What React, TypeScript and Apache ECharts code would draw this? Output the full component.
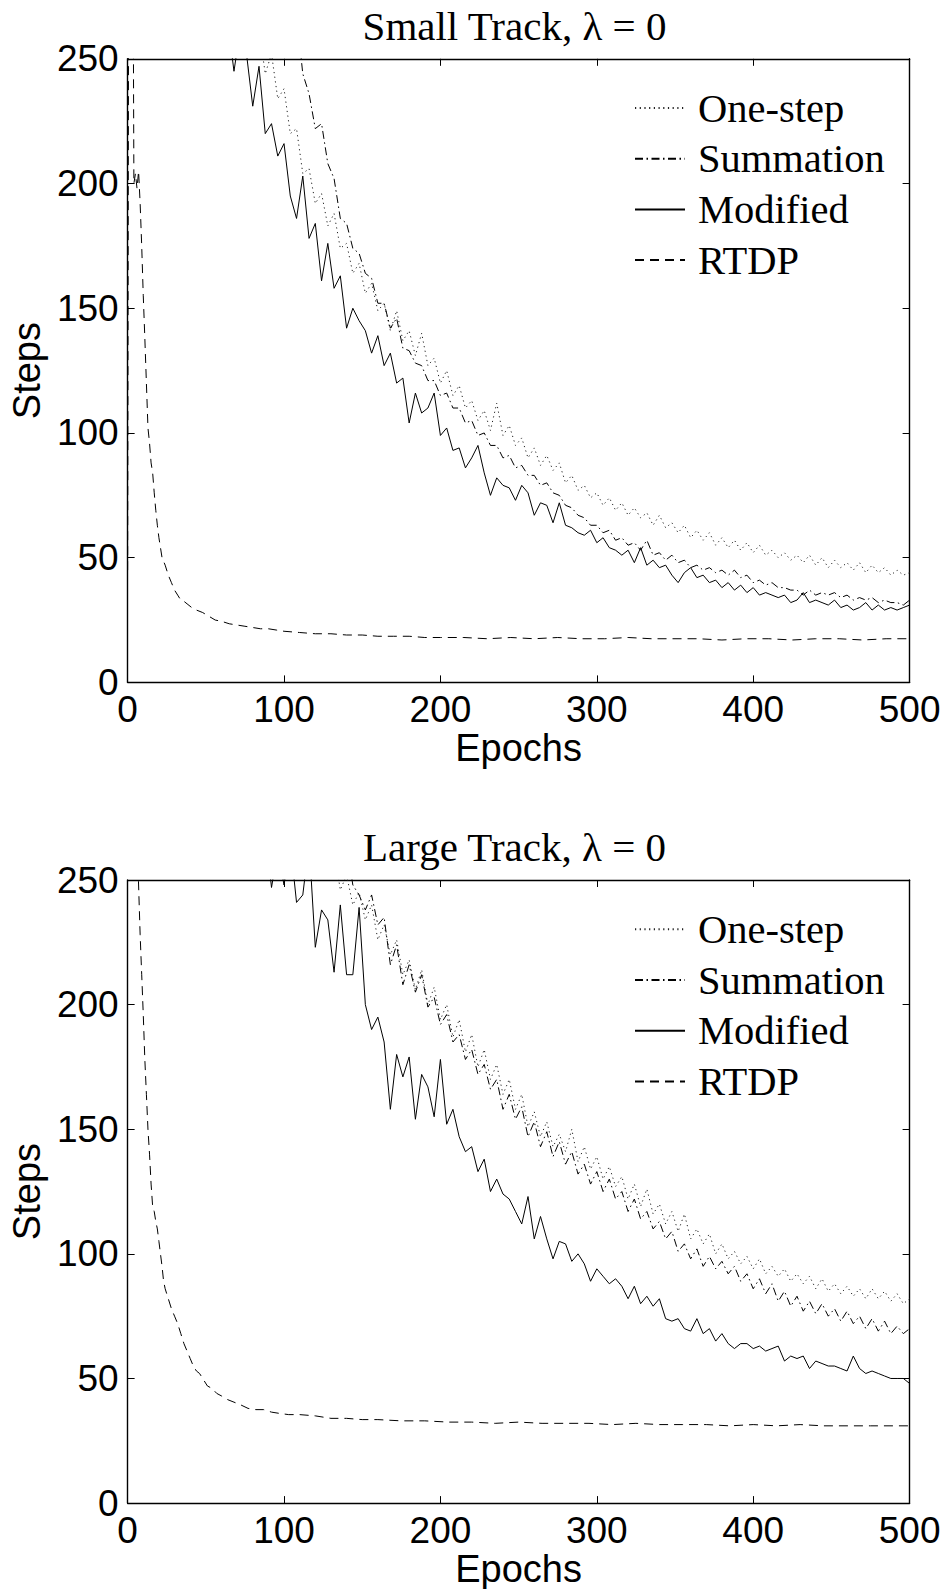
import React, { useEffect, useRef } from "react";
import * as echarts from "echarts";

// ---------------- data ----------------
const EPOCH_STEP = 4;
const SERIES_NAMES = ["One-step", "Summation", "Modified", "RTDP"];
const PANEL_TITLES = ["Small Track, λ = 0", "Large Track, λ = 0"];
const X_LABEL = "Epochs";
const Y_LABEL = "Steps";

// Small track (top panel)
const smallOneStepStart = 84;
const smallOneStep = [
  262, 244, 252, 234, 238, 220, 222, 204, 206, 192,
  196, 183, 188, 174, 176, 164, 168, 156, 160, 149,
  152, 141, 149, 137, 141, 131, 140, 127, 130, 120,
  125, 115, 119, 110, 113, 105, 109, 101, 112, 99,
  103, 95, 98, 90, 94, 87, 91, 85, 88, 80,
  83, 77, 79, 74, 76, 71, 74, 69, 72, 67,
  70, 66, 68, 63, 67, 62, 64, 60, 63, 58,
  61, 57, 60, 55, 58, 54, 57, 53, 56, 52,
  55, 51, 53, 50, 52, 49, 51, 48, 51, 47,
  50, 46, 49, 46, 48, 45, 48, 44, 47, 44,
  46, 43, 45, 43, 44,
];
const smallSummationStart = 108;
const smallSummation = [
  268, 244, 236, 222, 224, 208, 202, 186, 184, 174,
  172, 164, 162, 152, 152, 142, 146, 134, 133, 128,
  127, 121, 121, 115, 116, 110, 110, 104, 105, 99,
  100, 95, 95, 90, 91, 86, 87, 83, 83, 79,
  80, 76, 75, 71, 70, 67, 66, 63, 63, 60,
  61, 57, 58, 55, 56, 53, 57, 51, 52, 49,
  51, 48, 49, 46, 47, 45, 46, 44, 45, 43,
  45, 42, 43, 40, 41, 39, 40, 38, 38, 37,
  37, 35, 37, 35, 36, 35, 36, 34, 35, 33,
  34, 33, 34, 32, 33, 32, 32, 31, 33,
];
const smallModifiedStart = 64;
const smallModified = [
  265, 245, 262, 252, 231, 247, 220, 224, 211, 216,
  195, 186, 203, 178, 184, 161, 176, 158, 163, 142,
  150, 145, 141, 132, 139, 127, 132, 120, 122, 104,
  116, 108, 110, 116, 99, 102, 93, 94, 86, 90,
  95, 84, 75, 82, 79, 78, 73, 79, 76, 67,
  72, 71, 64, 72, 63, 62, 60, 59, 61, 56,
  58, 54, 53, 51, 53, 48, 54, 47, 49, 46,
  47, 43, 40, 44, 46, 42, 43, 40, 41, 38,
  40, 37, 39, 36, 38, 35, 36, 35, 34, 35,
  32, 33, 36, 32, 33, 32, 31, 33, 30, 31,
  29, 30, 32, 29, 31, 29, 30, 29, 30, 31,
];
const smallRTDP: [number, number][] = [
  [0, 45], [1, 420], [2, 400], [3, 380], [4, 200], [5, 204], [6, 198], [7, 205],
  [8, 192], [9, 175], [10, 155], [11, 138], [12, 120], [13, 102], [14, 96], [15, 88],
  [16, 84], [17, 76], [18, 69], [19, 63], [20, 58], [21, 54], [22, 50], [24, 47],
  [26, 43], [28, 40], [30, 37], [32, 35], [34, 33], [36, 32.5], [38, 31.5], [41, 30],
  [44, 29], [48, 28], [52, 26.5], [56, 25], [60, 24.5], [65, 23.5], [70, 23], [75, 22.5],
  [80, 22], [85, 21.5], [90, 21.5], [95, 21], [100, 20.5], [110, 20], [120, 19.5],
  [130, 19.5], [140, 19], [150, 19], [160, 18.5], [170, 18.5], [180, 18.5], [190, 18],
  [200, 18], [215, 18], [230, 17.5], [245, 18], [260, 17.5], [275, 18], [290, 17.5],
  [305, 17.5], [320, 18], [335, 17.5], [350, 17.5], [365, 17.5], [380, 17], [395, 17.5],
  [410, 17.5], [425, 17], [440, 17.5], [455, 17.5], [470, 17], [485, 17.5], [500, 17.5],
];

// Large track (bottom panel)
const largeOneStepStart = 132;
const largeOneStep = [
  262, 246, 252, 240, 245, 234, 240, 226, 232, 220,
  226, 212, 218, 206, 214, 200, 207, 194, 200, 187,
  194, 181, 188, 175, 182, 170, 176, 164, 170, 158,
  164, 151, 157, 147, 153, 143, 148, 141, 150, 137,
  143, 134, 139, 130, 135, 127, 131, 122, 128, 119,
  126, 116, 120, 112, 117, 109, 116, 106, 110, 104,
  108, 100, 104, 98, 101, 96, 99, 94, 98, 92,
  95, 91, 94, 89, 92, 88, 91, 86, 90, 85,
  88, 84, 87, 83, 86, 82, 86, 82, 85, 81,
  84, 80, 82,
];
const largeSummationStart = 140;
const largeSummation = [
  264, 248, 244, 238, 244, 232, 235, 216, 224, 208,
  216, 205, 212, 199, 203, 192, 196, 185, 188, 178,
  182, 172, 176, 166, 170, 158, 164, 154, 159, 147,
  153, 143, 149, 139, 145, 136, 141, 132, 136, 128,
  133, 125, 130, 122, 125, 117, 122, 114, 117, 110,
  113, 106, 109, 101, 104, 98, 102, 95, 99, 94,
  97, 92, 95, 89, 92, 86, 90, 84, 88, 81,
  85, 79, 83, 77, 81, 76, 80, 75, 78, 73,
  77, 72, 75, 70, 74, 69, 73, 68, 71, 68,
  70,
];
const largeModifiedStart = 88;
const largeModified = [
  270, 247, 262, 248, 265, 241, 244, 265, 223, 238,
  234, 213, 240, 212, 212, 239, 200, 190, 195, 185,
  158, 180, 171, 179, 154, 172, 167, 155, 178, 152,
  158, 147, 141, 143, 133, 138, 125, 130, 124, 122,
  117, 112, 123, 106, 115, 106, 98, 105, 104, 97,
  100, 96, 89, 94, 91, 88, 90, 87, 82, 87,
  80, 83, 79, 82, 74, 73, 74, 70, 69, 74,
  68, 70, 65, 68, 64, 62, 64, 64, 62, 63,
  61, 62, 63, 57, 59, 58, 59, 54, 57, 56,
  55, 55, 54, 53, 59, 54, 52, 53, 52, 51,
  50, 50, 50, 48,
];
const largeRTDP: [number, number][] = [
  [0, 430], [3, 380], [6, 270], [7, 248], [8, 228], [9, 212], [10, 196], [11, 178],
  [12, 164], [13, 150], [14, 140], [15, 128], [16, 119], [17, 117], [18, 113], [19, 110],
  [20, 105], [21, 100], [22, 95], [23, 89], [24, 86], [26, 82], [28, 78], [30, 75],
  [32, 72], [34, 68], [36, 64], [38, 61], [40, 58], [42, 55], [44, 53], [46, 52],
  [48, 50], [51, 47], [54, 46], [57, 44], [60, 43], [64, 41.5], [68, 40.5], [72, 39.5],
  [77, 38], [82, 37.5], [87, 37.5], [92, 36.5], [97, 36], [103, 35.5], [110, 35.5],
  [120, 35], [130, 34], [140, 34], [150, 33.5], [160, 33.5], [175, 33], [190, 33],
  [205, 32.5], [220, 32.5], [235, 32], [250, 32.5], [265, 32], [280, 32], [295, 32],
  [310, 31.5], [325, 32], [340, 31.5], [355, 31.5], [370, 31.5], [385, 31], [400, 31.5],
  [415, 31], [430, 31.5], [445, 31], [460, 31], [475, 31], [490, 31], [500, 31],
];

// ---------------- helpers ----------------
const toPairs = (start: number, values: number[]) =>
  values.map((v, i) => [start + i * EPOCH_STEP, v]);

const SANS = "'Liberation Sans', Arial, Helvetica, sans-serif";
const SERIF = "'Liberation Serif', 'Times New Roman', serif";

const PANELS = [
  {
    title: PANEL_TITLES[0],
    grid: { left: 119.6, top: 58.8, width: 790, height: 623.6 },
    titleTop: 5.3,
    legendTop: 87.5,
    data: [
      toPairs(smallOneStepStart, smallOneStep),
      toPairs(smallSummationStart, smallSummation),
      toPairs(smallModifiedStart, smallModified),
      smallRTDP,
    ],
  },
  {
    title: PANEL_TITLES[1],
    grid: { left: 119.6, top: 880, width: 790, height: 624 },
    titleTop: 826.3,
    legendTop: 908.8,
    data: [
      toPairs(largeOneStepStart, largeOneStep),
      toPairs(largeSummationStart, largeSummation),
      toPairs(largeModifiedStart, largeModified),
      largeRTDP,
    ],
  },
];

const LINE_STYLES: any[] = [
  { color: "#222", width: 1, type: [1.2, 3.5] },
  { color: "#000", width: 1, type: [8, 3.5, 1.5, 3.5] },
  { color: "#000", width: 1, type: "solid" },
  { color: "#000", width: 1, type: [9, 6] },
];

function buildOption() {
  const axisLine = { show: true, onZero: false, lineStyle: { color: "#000", width: 1.4 } };
  const axisTick = { show: true, inside: true, length: 7, lineStyle: { color: "#000", width: 1 } };
  const labelStyle = { color: "#000", fontFamily: SANS, fontSize: 37, lineHeight: 37 };

  const grid: any[] = [];
  const xAxis: any[] = [];
  const yAxis: any[] = [];
  const series: any[] = [];
  const title: any[] = [];
  const legend: any[] = [];

  PANELS.forEach((p, i) => {
    grid.push({ ...p.grid, containLabel: false });
    xAxis.push({
      type: "value", gridIndex: i, position: "bottom", min: 0, max: 500, interval: 100,
      axisLine, axisTick, splitLine: { show: false },
      axisLabel: { ...labelStyle, margin: 9 },
      name: X_LABEL, nameLocation: "middle", nameGap: 42,
      nameTextStyle: { ...labelStyle, fontSize: 38, lineHeight: 38 },
    });
    xAxis.push({
      type: "value", gridIndex: i, position: "top", min: 0, max: 500, interval: 100,
      axisLine, axisTick, splitLine: { show: false }, axisLabel: { show: false },
    });
    yAxis.push({
      type: "value", gridIndex: i, position: "left", min: 0, max: 250, interval: 50,
      axisLine, axisTick, splitLine: { show: false },
      axisLabel: { ...labelStyle, margin: 9 },
      name: Y_LABEL, nameLocation: "middle", nameGap: 71, nameRotate: 90,
      nameTextStyle: { ...labelStyle, fontSize: 38, lineHeight: 38 },
    });
    yAxis.push({
      type: "value", gridIndex: i, position: "right", min: 0, max: 250, interval: 50,
      axisLine, axisTick, splitLine: { show: false }, axisLabel: { show: false },
    });
    SERIES_NAMES.forEach((name, k) => {
      series.push({
        name, type: "line", xAxisIndex: 2 * i, yAxisIndex: 2 * i,
        data: p.data[k], symbol: "none", showSymbol: false, silent: true,
        clip: true, lineStyle: LINE_STYLES[k], itemStyle: { color: LINE_STYLES[k].color },
        emphasis: { disabled: true }, z: 2 + k,
      });
    });
    title.push({
      text: p.title, left: 514.5, top: p.titleTop, textAlign: "center", padding: 0,
      textStyle: { color: "#000", fontFamily: SERIF, fontSize: 41, fontWeight: "normal", lineHeight: 41 },
    });
    legend.push({
      data: SERIES_NAMES, orient: "vertical", left: 634, top: p.legendTop, padding: 0,
      itemWidth: 50, itemHeight: 40, itemGap: 9.7, selectedMode: false,
      itemStyle: { opacity: 0, color: "transparent", borderWidth: 0 },
      textStyle: { color: "#000", fontFamily: SERIF, fontSize: 40.5, lineHeight: 40, padding: [0, 0, 0, 8] },
    });
  });

  return {
    animation: false,
    backgroundColor: "#fff",
    grid, xAxis, yAxis, series, title, legend,
  };
}

export default function App() {
  const ref = useRef<HTMLDivElement>(null);
  useEffect(() => {
    document.body.style.margin = "0";
    if (!ref.current) return;
    const chart = echarts.init(ref.current, undefined, { renderer: "svg" });
    chart.setOption(buildOption() as any);
    return () => chart.dispose();
  }, []);
  return <div ref={ref} style={{ width: 948, height: 1589 }} />;
}
